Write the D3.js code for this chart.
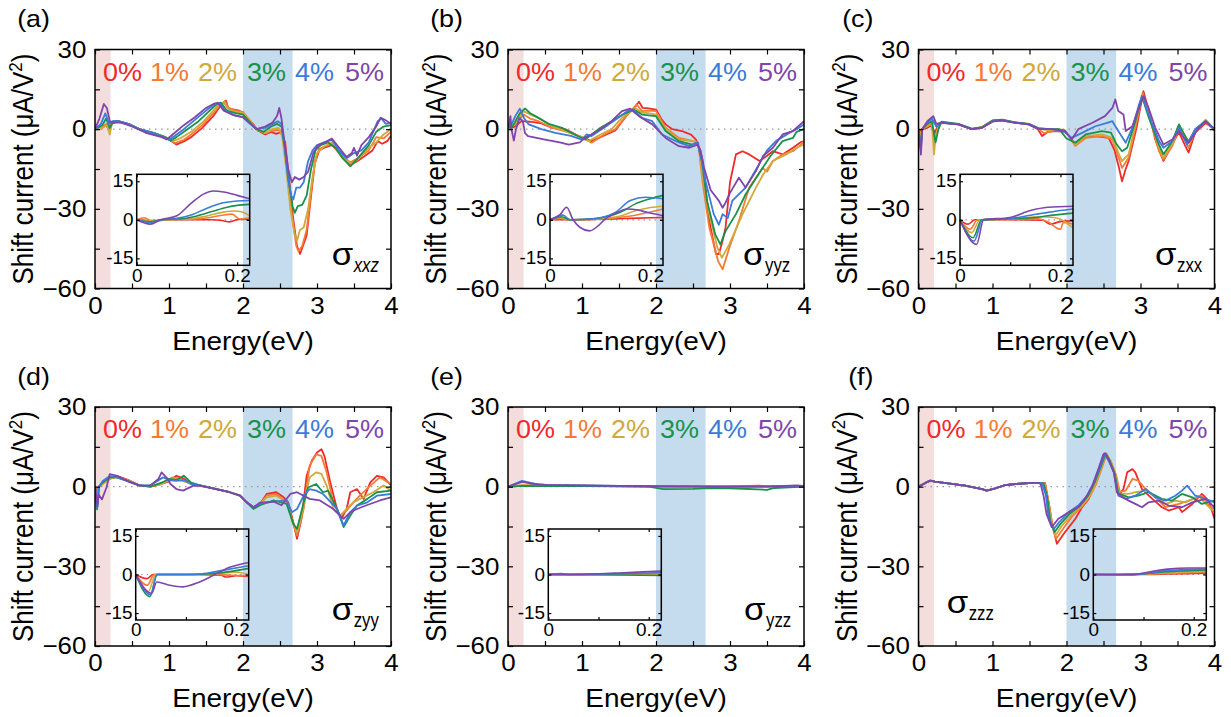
<!DOCTYPE html>
<html>
<head>
<meta charset="utf-8">
<script src="https://d3js.org/d3.v7.min.js"></script>
<style>
  body { margin: 0; background: #fff; }
  svg { display: block; }
</style>
</head>
<body>
<script>
"use strict";

/* strain series: labels and colours */
var strainLabels = ["0%", "1%", "2%", "3%", "4%", "5%"];
var strainColors = ["#ee2a2a", "#f47a35", "#cfa93c", "#18924b", "#3b7bd9", "#7f45ab"];

/* tick values */
var energyTicks = [0, 0.5, 1, 1.5, 2, 2.5, 3, 3.5, 4];
var currentTicks = [-60, -45, -30, -15, 0, 15, 30];
var insetEnergyTicks = [0, 0.1, 0.2];
var insetCurrentTicks = [-15, 0, 15];

/* shaded energy windows (eV) */
var pinkBand = [0, 0.21];
var blueBand = [2.0, 2.67];

var panelLetters = ["(a)", "(b)", "(c)", "(d)", "(e)", "(f)"];
var sigmaSubs = ["xxz", "yyz", "zxx", "zyy", "yzz", "zzz"];

/* ---- (a) sigma_xxz : [energy eV, current uA/V^2], series 0%..5% ---- */
var xxz = [
 [[0,0],[0.08,0.3],[0.14,1.5],[0.19,0.2],[0.22,2],[0.3,2.8],[0.45,1.8],[0.6,0],[0.8,-1.8],[0.95,-3],[1.05,-4.8],[1.1,-5.8],[1.2,-4.6],[1.3,-3],[1.45,0.5],[1.6,5],[1.7,9],[1.77,10.8],[1.8,8],[1.85,7.5],[1.95,7],[2.05,4.5],[2.15,1.5],[2.2,-0.5],[2.3,-2],[2.38,-1],[2.45,-1.8],[2.52,-1],[2.57,-5],[2.62,-18],[2.68,-34],[2.73,-44],[2.77,-47],[2.81,-44],[2.86,-40],[2.92,-25],[2.97,-13],[3.03,-8],[3.1,-7],[3.2,-6],[3.27,-8],[3.35,-11],[3.45,-13.5],[3.55,-12],[3.65,-10],[3.75,-8],[3.82,-4.5],[3.88,-5.5],[3.95,-4.5],[4.0,-2.5]],
 [[0,0],[0.1,0.5],[0.15,2],[0.19,0],[0.23,2.5],[0.3,3],[0.45,2],[0.6,0],[0.8,-1.5],[0.95,-3],[1.08,-5.2],[1.2,-4],[1.3,-2],[1.45,1.5],[1.6,6],[1.7,9.5],[1.76,10.5],[1.8,8],[1.9,7],[2.0,6.5],[2.1,3],[2.18,0],[2.3,-1.5],[2.4,-0.5],[2.5,-0.3],[2.55,-4],[2.6,-15],[2.66,-32],[2.72,-44],[2.75,-46],[2.8,-44],[2.86,-38],[2.92,-24],[2.97,-12],[3.03,-7.5],[3.1,-6.5],[3.2,-5.5],[3.3,-9],[3.45,-12.5],[3.55,-11],[3.7,-8],[3.8,-3],[3.9,-3.5],[4.0,-1]],
 [[0,0],[0.1,0.5],[0.16,1.5],[0.2,-2],[0.23,2.5],[0.3,3],[0.45,2],[0.6,0],[0.8,-1.5],[0.95,-3],[1.05,-4.5],[1.15,-3.5],[1.3,-1],[1.45,2.5],[1.6,7],[1.68,9.5],[1.74,10],[1.8,7.5],[1.9,6.5],[2.0,6],[2.1,3],[2.18,0],[2.3,-1.5],[2.4,0],[2.48,0.5],[2.53,-3],[2.58,-14],[2.64,-30],[2.7,-40],[2.73,-42],[2.77,-38],[2.82,-37],[2.88,-30],[2.94,-18],[3.0,-9],[3.1,-6.5],[3.2,-5],[3.3,-9],[3.45,-13],[3.55,-11.5],[3.7,-7],[3.8,-5],[3.9,-2],[4.0,0]],
 [[0,0],[0.1,1.5],[0.15,4],[0.2,0.5],[0.25,3],[0.32,3],[0.45,2],[0.6,0],[0.8,-1.5],[0.95,-3],[1.02,-4.4],[1.1,-3],[1.25,0],[1.4,3],[1.55,7],[1.65,9.5],[1.7,10],[1.78,7],[1.9,6],[2.0,5.5],[2.1,2.5],[2.18,0],[2.28,-1],[2.38,1],[2.46,2],[2.52,1],[2.56,-6],[2.62,-20],[2.67,-29],[2.7,-31.5],[2.74,-29],[2.8,-28.5],[2.86,-25],[2.92,-15],[2.98,-8],[3.05,-6],[3.15,-5],[3.25,-7],[3.35,-11],[3.45,-14],[3.55,-11],[3.7,-6],[3.8,-1],[3.9,1],[4.0,1.5]],
 [[0,0],[0.08,2],[0.14,6],[0.19,2],[0.24,3],[0.32,3],[0.45,2],[0.6,0],[0.8,-1.5],[0.92,-3],[1.0,-4],[1.08,-2.5],[1.2,0],[1.35,3.5],[1.5,7],[1.62,9.5],[1.68,9.8],[1.76,7],[1.9,5],[2.0,4.5],[2.1,2],[2.18,0],[2.3,0.5],[2.4,2],[2.47,3],[2.52,2],[2.56,-6],[2.61,-19],[2.65,-25],[2.68,-26.5],[2.72,-22],[2.77,-22],[2.82,-20],[2.88,-12],[2.94,-8],[3.0,-6],[3.1,-5],[3.2,-4],[3.3,-8],[3.4,-11],[3.5,-9],[3.6,-8],[3.7,-5],[3.82,3],[3.87,4],[3.93,2],[4.0,2.5]],
 [[0,0],[0.06,4],[0.12,9.5],[0.16,8],[0.2,3],[0.25,2.5],[0.35,2.5],[0.5,1],[0.7,-1.5],[0.9,-3],[0.97,-3.9],[1.05,-2],[1.2,1.5],[1.35,4.5],[1.5,8],[1.6,9.5],[1.66,9.9],[1.74,7],[1.85,5.5],[2.0,4.5],[2.1,2],[2.18,0],[2.3,1],[2.4,2.5],[2.46,5],[2.49,8],[2.52,4],[2.56,-5],[2.61,-15],[2.66,-20],[2.7,-18],[2.76,-19],[2.82,-18],[2.88,-16],[2.95,-9],[3.02,-6],[3.1,-5],[3.2,-3.5],[3.3,-7],[3.4,-10.5],[3.47,-9],[3.5,-7],[3.54,-10],[3.6,-6],[3.7,-3],[3.8,1],[3.86,4.3],[3.92,3.5],[4.0,2]]
];
var xxzInset = [
 [[0,0],[0.03,-0.3],[0.06,0],[0.1,0],[0.15,0],[0.17,-0.3],[0.185,-0.8],[0.2,0],[0.225,0.3]],
 [[0,0],[0.015,0.8],[0.03,-0.5],[0.06,0],[0.1,0.2],[0.14,0.7],[0.17,1.8],[0.19,2.2],[0.205,0.3],[0.225,0.8]],
 [[0,0],[0.03,-0.5],[0.06,0],[0.1,0.3],[0.14,1.5],[0.17,2.9],[0.195,3.4],[0.21,3],[0.225,1.6]],
 [[0,0],[0.027,-0.8],[0.05,0],[0.09,0.4],[0.12,1.5],[0.15,3.2],[0.18,4.9],[0.2,5.6],[0.225,6]],
 [[0,0],[0.027,-1],[0.05,0],[0.08,0.6],[0.11,2],[0.14,4.5],[0.17,6.5],[0.2,7.3],[0.225,7.5]],
 [[0,0],[0.027,-1.7],[0.047,0],[0.08,1.6],[0.107,6.2],[0.133,10],[0.153,11.2],[0.173,10.8],[0.2,9.5],[0.225,8.2]]
];

/* ---- (b) sigma_yyz ---- */
var yyz = [
 [[0,0],[0.1,1],[0.18,3],[0.3,2.8],[0.45,2.2],[0.6,0.5],[0.77,0],[0.95,-2.5],[1.13,-4.5],[1.25,-3],[1.45,-0.5],[1.6,5],[1.72,8.5],[1.77,10.3],[1.82,8],[1.9,7.8],[2.0,7.4],[2.08,3.5],[2.13,1.8],[2.22,0],[2.35,-0.7],[2.42,-1.5],[2.47,-2],[2.54,-3.9],[2.6,-8],[2.63,-12],[2.72,-34.6],[2.81,-47],[2.85,-47],[2.9,-42],[2.94,-37],[3.0,-20],[3.08,-9.5],[3.17,-8.3],[3.26,-9.5],[3.4,-12],[3.5,-10],[3.58,-8.3],[3.71,-9.5],[3.85,-7],[3.95,-5],[4.0,-4.5]],
 [[0,0],[0.1,2],[0.21,5.5],[0.3,4],[0.41,3],[0.6,0.5],[0.8,-1],[1.0,-3],[1.13,-5.1],[1.3,-2],[1.45,0],[1.6,5],[1.74,9.3],[1.81,6.8],[1.9,7],[2.0,6.8],[2.13,0.5],[2.31,-3.3],[2.5,-4.5],[2.57,-5],[2.63,-20],[2.72,-37],[2.84,-49.7],[2.9,-52.8],[2.99,-44.7],[3.12,-34.6],[3.26,-22],[3.44,-14.6],[3.5,-16],[3.58,-12],[3.71,-9.5],[3.85,-8.3],[3.95,-6],[4.0,-4.5]],
 [[0,0],[0.1,2],[0.21,6.8],[0.3,5.5],[0.41,4.3],[0.6,1],[0.8,-1],[1.0,-3],[1.09,-4.5],[1.25,-2],[1.4,0],[1.55,4.5],[1.72,8],[1.81,6.2],[1.9,6],[2.0,5.5],[2.13,0],[2.31,-3.9],[2.5,-4.5],[2.57,-5],[2.63,-18],[2.72,-32],[2.83,-44.7],[2.89,-48.4],[2.99,-43.4],[3.17,-32],[3.35,-22],[3.45,-17],[3.58,-12],[3.76,-9.5],[3.9,-7],[4.0,-5.8]],
 [[0,0],[0.023,1.2],[0.04,0],[0.1,3],[0.16,6],[0.23,7.8],[0.3,6],[0.37,4.9],[0.55,2],[0.73,0.5],[0.9,-2],[1.04,-3.9],[1.13,-2],[1.25,0.5],[1.4,3],[1.55,5.5],[1.7,7.4],[1.81,5.5],[1.9,5.2],[2.0,4.9],[2.13,-0.7],[2.31,-4.5],[2.49,-5.8],[2.56,-5],[2.62,-12],[2.69,-27],[2.8,-39.6],[2.87,-43.4],[2.94,-38.4],[3.08,-32],[3.21,-24.6],[3.44,-14.6],[3.55,-10],[3.71,-4.5],[3.85,-3.3],[3.9,-1],[4.0,0]],
 [[0,0],[0.026,1.8],[0.05,2],[0.1,5],[0.16,7.7],[0.22,4],[0.28,1.8],[0.45,0],[0.64,-1.4],[0.85,-2.5],[1.0,-3.9],[1.06,-2],[1.13,-2.6],[1.36,1.8],[1.5,4.5],[1.61,6.8],[1.68,7.4],[1.81,4.3],[1.95,3],[2.08,-2],[2.31,-5],[2.45,-6.4],[2.56,-5],[2.62,-12],[2.67,-19.6],[2.78,-32],[2.85,-36],[2.9,-32],[2.97,-33.5],[3.03,-27],[3.21,-22],[3.39,-13.3],[3.5,-8],[3.62,-4.5],[3.8,-1.4],[3.9,0],[4.0,1.8]],
 [[0,0],[0.033,4.9],[0.046,0],[0.079,-4.3],[0.108,0],[0.154,4.2],[0.2,3],[0.23,-1.5],[0.27,-2.6],[0.5,-3.9],[0.7,-5],[0.82,-5.8],[0.97,-5],[1.05,-3],[1.13,-2],[1.25,0],[1.4,3],[1.54,6.8],[1.65,7.7],[1.77,4.9],[1.95,1.8],[2.13,-3.3],[2.31,-6.4],[2.45,-7],[2.56,-5.8],[2.6,-8],[2.65,-14.6],[2.74,-23],[2.85,-27],[2.9,-29.6],[2.94,-27.7],[3.0,-24],[3.12,-18.3],[3.21,-22],[3.35,-15.8],[3.45,-10],[3.58,-7],[3.71,-2],[3.85,-0.7],[3.92,1],[4.0,3]]
];
var yyzInset = [
 [[0,0],[0.05,0],[0.1,0.2],[0.15,0.5],[0.2,0.8],[0.225,0.9]],
 [[0,0],[0.02,0.5],[0.04,0],[0.1,0.3],[0.14,1],[0.17,1.8],[0.2,3],[0.225,4.2]],
 [[0,0],[0.02,0.8],[0.04,0],[0.1,0.5],[0.14,1.5],[0.17,3.5],[0.2,4.8],[0.225,5.3]],
 [[0,0],[0.023,1.2],[0.04,0],[0.09,0.5],[0.14,2.9],[0.17,6.2],[0.2,8.2],[0.225,9.5]],
 [[0,0],[0.026,1.8],[0.04,0],[0.08,0.3],[0.1,0.8],[0.13,2.9],[0.16,7.5],[0.19,8.8],[0.225,8.2]],
 [[0,0],[0.02,2],[0.033,4.9],[0.046,0],[0.06,-3],[0.079,-4.3],[0.095,-2.5],[0.108,0],[0.13,2.5],[0.154,4.2],[0.175,3.8],[0.193,2.9],[0.225,1.6]]
];

/* ---- (c) sigma_zxx ---- */
var zxx = [
 [[0,0],[0.016,-1.7],[0.04,0],[0.12,0.5],[0.18,1.5],[0.22,-1.5],[0.27,2],[0.35,2.5],[0.54,1.8],[0.72,0],[0.86,0.5],[1.0,3],[1.13,3.3],[1.31,2.4],[1.49,1.8],[1.6,0.5],[1.67,-2.6],[1.75,-1],[1.85,-0.7],[1.98,-1],[2.05,-3],[2.12,-5.8],[2.21,-3.3],[2.39,-2.6],[2.57,-3.3],[2.65,-8],[2.71,-14.6],[2.75,-19.6],[2.8,-15],[2.84,-12],[2.95,1],[3.04,14.3],[3.11,7],[3.2,-4],[3.25,-7.7],[3.31,-12],[3.43,-5.5],[3.52,-1.2],[3.6,-6],[3.65,-8.8],[3.74,-1.2],[3.88,2.3],[3.95,1],[4.0,0]],
 [[0,0],[0.02,-3.7],[0.045,0],[0.12,1],[0.18,2],[0.21,-4],[0.25,-1],[0.3,2.5],[0.54,1.8],[0.72,0],[0.86,0.8],[1.0,3],[1.13,3.5],[1.31,2.5],[1.49,1.8],[1.62,0],[1.7,-1.5],[1.85,-0.5],[1.98,-0.5],[2.12,-6.3],[2.26,-3.3],[2.48,-2.6],[2.62,-3.9],[2.72,-12],[2.75,-14.6],[2.84,-10.8],[2.95,3],[3.03,13.7],[3.11,5.5],[3.25,-8.3],[3.31,-11.5],[3.43,-6.3],[3.52,0],[3.65,-7],[3.74,-0.7],[3.88,3],[4.0,-0.7]],
 [[0,0],[0.025,-5],[0.045,0],[0.12,1.5],[0.18,2.5],[0.21,-9.5],[0.23,-3],[0.28,2.5],[0.54,1.8],[0.72,0],[0.86,0.8],[1.0,3.3],[1.13,3.5],[1.31,2.5],[1.49,2],[1.62,0.3],[1.75,-0.5],[1.9,0],[1.98,-0.5],[2.12,-5.8],[2.26,-2.6],[2.48,-2],[2.62,-3.3],[2.71,-9.5],[2.75,-12],[2.84,-9.5],[2.95,4.3],[3.02,13],[3.11,5.5],[3.25,-7],[3.31,-10.8],[3.43,-5.5],[3.52,0.5],[3.65,-4.5],[3.74,-0.5],[3.88,3.6],[4.0,0]],
 [[0,0],[0.03,-7],[0.05,0],[0.12,2],[0.18,3],[0.23,-5],[0.27,0],[0.31,2.8],[0.54,2],[0.72,0.2],[0.86,0.8],[1.0,3.3],[1.13,3.6],[1.31,2.6],[1.49,2],[1.62,0.4],[1.75,0],[1.9,0],[2.0,-3.5],[2.12,-5.1],[2.26,-2],[2.48,-0.7],[2.6,-1.3],[2.68,-5.8],[2.75,-8.3],[2.82,-7],[2.93,3],[3.02,12.4],[3.11,4.5],[3.25,-5.8],[3.31,-9.5],[3.43,-4.5],[3.52,1.8],[3.65,-5],[3.74,0],[3.88,3],[4.0,0]],
 [[0,0],[0.032,-8.3],[0.05,0],[0.12,2.5],[0.18,4],[0.24,1],[0.31,2.5],[0.54,1.8],[0.72,0],[0.86,0.6],[1.0,3],[1.13,3.3],[1.31,2.5],[1.49,1.8],[1.62,0.3],[1.8,0],[1.95,-0.5],[2.07,-3.3],[2.21,-1.4],[2.39,1.1],[2.55,2.4],[2.62,3],[2.7,-0.7],[2.8,-5.1],[2.89,0.5],[2.98,9.3],[3.02,12.4],[3.11,5.5],[3.25,-4.5],[3.31,-7],[3.43,-4.5],[3.52,0.5],[3.63,-5.8],[3.74,0],[3.88,3],[4.0,0]],
 [[0,0],[0.02,-5],[0.033,-9.6],[0.05,0],[0.12,3],[0.2,4.9],[0.24,2],[0.31,2.4],[0.54,1.8],[0.72,0],[0.86,0.5],[1.0,2.8],[1.13,3.3],[1.31,2.4],[1.49,1.8],[1.62,0],[1.8,0],[1.98,-0.6],[2.07,-3.9],[2.16,0],[2.35,2.4],[2.52,4.9],[2.62,8],[2.66,11.2],[2.7,6.8],[2.77,5.5],[2.8,-0.7],[2.89,1.1],[2.98,8],[3.04,12.4],[3.11,8],[3.2,0.5],[3.31,-5.8],[3.43,-3.9],[3.52,-0.7],[3.59,-3.3],[3.65,-5.1],[3.79,0.5],[3.88,3],[4.0,0]]
];
var zxxInset = [
 [[0,0],[0.016,-1.7],[0.03,0],[0.1,0],[0.165,-0.2],[0.18,-1.7],[0.194,-1],[0.205,-0.5],[0.225,-0.4]],
 [[0,0],[0.02,-3.7],[0.035,0],[0.1,0.2],[0.15,0.5],[0.175,-0.8],[0.2,-3.7],[0.206,-1],[0.225,-1.7]],
 [[0,0],[0.023,-5],[0.04,0],[0.1,0.3],[0.16,1.2],[0.187,0.9],[0.207,-0.4],[0.22,-2.4],[0.225,-3]],
 [[0,0],[0.026,-7],[0.043,0],[0.1,0.4],[0.15,0.9],[0.175,1.6],[0.225,2.6]],
 [[0,0],[0.028,-8.3],[0.045,0],[0.1,0.5],[0.14,1.8],[0.175,2.9],[0.225,4.2]],
 [[0,0],[0.033,-9.6],[0.047,0],[0.1,0.9],[0.14,3.6],[0.175,4.9],[0.225,5.3]]
];

/* ---- (d) sigma_zyy ---- */
var zyy = [
 [[0,0],[0.022,-1.6],[0.05,0],[0.1,1],[0.2,3],[0.3,4],[0.45,2.5],[0.6,0.5],[0.75,0],[0.9,1],[1.0,2],[1.1,4.1],[1.2,3],[1.3,1],[1.42,0.5],[1.64,-0.9],[1.82,-2.1],[1.96,-3.4],[2.05,-5.9],[2.14,-7.75],[2.23,-6.5],[2.32,-2.75],[2.45,-2.1],[2.55,-4],[2.61,-5.9],[2.68,-13.4],[2.73,-19.6],[2.79,-12.1],[2.86,4.1],[2.93,9.75],[3.0,12.9],[3.06,14.1],[3.1,11.6],[3.18,1.6],[3.27,-8.4],[3.33,-12.1],[3.4,-8.4],[3.45,-2.1],[3.54,-0.9],[3.63,-4.6],[3.72,1.6],[3.81,4.1],[3.9,3.5],[4.0,0.5]],
 [[0,0],[0.023,-4.2],[0.05,0],[0.1,1],[0.2,3],[0.3,3.8],[0.45,2.5],[0.6,0.5],[0.75,0],[0.9,1.2],[1.05,3.5],[1.15,3],[1.3,1],[1.42,0.5],[1.64,-0.9],[1.82,-2.1],[1.96,-3.4],[2.05,-5.9],[2.14,-7.75],[2.23,-6.5],[2.32,-3.4],[2.45,-2.75],[2.59,-5.9],[2.69,-15],[2.73,-18.4],[2.82,-8.4],[2.9,7.9],[2.99,12.2],[3.06,11.6],[3.13,5.4],[3.22,-5.9],[3.31,-10.9],[3.4,-9],[3.49,-5.9],[3.58,-3.4],[3.72,0.4],[3.85,3.5],[4.0,1]],
 [[0,0],[0.025,-6.7],[0.05,0],[0.1,1],[0.2,3],[0.3,3.5],[0.45,2.2],[0.6,0.5],[0.75,0],[0.9,1],[1.05,3],[1.15,2.5],[1.3,1],[1.42,0.5],[1.64,-0.9],[1.82,-2.1],[1.96,-3.4],[2.05,-5.9],[2.14,-7.75],[2.23,-6.5],[2.32,-4],[2.45,-3.4],[2.59,-5.9],[2.68,-14],[2.73,-17],[2.82,-7],[2.9,3.5],[2.99,5.4],[3.06,4.8],[3.13,0.4],[3.22,-8.4],[3.31,-10.9],[3.4,-8.4],[3.49,-5.9],[3.58,-4.6],[3.76,-2.1],[3.9,0.4],[4.0,-1.5]],
 [[0,0],[0.028,-8.6],[0.055,0],[0.1,1.5],[0.2,3.5],[0.3,3.5],[0.45,2],[0.6,0.5],[0.75,0],[0.9,1.5],[1.0,2.9],[1.1,2.5],[1.2,4.1],[1.3,1.5],[1.42,0.5],[1.64,-0.9],[1.82,-2.1],[1.96,-3.4],[2.05,-5.9],[2.14,-8.4],[2.23,-7],[2.41,-5.2],[2.59,-6.5],[2.68,-14],[2.73,-15.9],[2.82,-6],[2.88,-0.3],[2.99,1],[3.08,-2.1],[3.15,-1.5],[3.27,-8.4],[3.36,-15.2],[3.45,-10.9],[3.54,-7.1],[3.68,-4.6],[3.81,-2.1],[4.0,-1.5]],
 [[0,0],[0.03,-7.9],[0.055,0],[0.1,2],[0.2,4],[0.3,3.5],[0.45,2],[0.6,0.5],[0.75,0.5],[0.92,3.5],[1.0,2.5],[1.1,2.2],[1.2,2.5],[1.3,1],[1.42,0.5],[1.64,-0.9],[1.82,-2.1],[1.96,-3.4],[2.05,-5.9],[2.14,-7.75],[2.23,-6.5],[2.41,-5.6],[2.59,-5.2],[2.66,-9.6],[2.73,-8.4],[2.82,-3.4],[2.9,-0.9],[2.99,-1.5],[3.08,-2.75],[3.27,-8.4],[3.36,-14.6],[3.45,-9.6],[3.54,-7.1],[3.68,-5.9],[3.81,-3.4],[4.0,-2.75]],
 [[0,0],[0.032,-7.3],[0.05,-3],[0.094,-4.8],[0.154,-0.4],[0.2,4.75],[0.3,4.1],[0.45,2],[0.6,0.4],[0.75,0.5],[0.86,3],[0.9,5.4],[0.98,3],[1.02,1],[1.1,-0.9],[1.19,-1.5],[1.33,0.4],[1.42,0.3],[1.64,-0.9],[1.82,-2.1],[1.96,-3.4],[2.05,-5.9],[2.14,-7.75],[2.23,-6],[2.41,-5.6],[2.52,-7],[2.64,-2.75],[2.73,-2.1],[2.9,-4.6],[3.04,-5.2],[3.22,-8.4],[3.36,-12.1],[3.45,-9.6],[3.54,-8.4],[3.67,-7],[3.85,-5.2],[4.0,-4]]
];
var zyyInset = [
 [[0,0],[0.022,-1.6],[0.035,0],[0.1,0],[0.17,-0.3],[0.18,-1],[0.2,-0.5],[0.225,-0.8]],
 [[0,0],[0.023,-4.2],[0.037,0],[0.1,0],[0.16,0],[0.19,-0.3],[0.225,-0.4]],
 [[0,0],[0.025,-6.7],[0.04,0],[0.1,0],[0.16,0.3],[0.2,0.9],[0.225,0]],
 [[0,0],[0.028,-8.6],[0.043,0],[0.1,0],[0.15,0.3],[0.19,1.2],[0.225,2.4]],
 [[0,0],[0.03,-7.9],[0.042,0],[0.1,0],[0.13,0.2],[0.17,1.5],[0.225,3.4]],
 [[0,0],[0.032,-7.3],[0.042,-2.9],[0.068,-4.2],[0.094,-4.8],[0.127,-2.9],[0.154,-0.4],[0.187,2.8],[0.225,4.7]]
];

/* ---- (e) sigma_yzz ---- */
var yzz = [
 [[0,0],[0.2,0.3],[0.5,0.4],[1,0.3],[2,0],[2.5,0],[3,0.1],[3.4,0.4],[3.5,0.1],[4,0.2]],
 [[0,0],[0.2,0.5],[0.5,0.5],[1,0.3],[2,0.1],[3,0],[4,0.1]],
 [[0,0],[0.2,0.6],[0.4,0.5],[1,0.4],[2,0.1],[3,0],[4,0.2]],
 [[0,0],[0.2,0.3],[0.5,0.2],[1,0.2],[1.9,0],[2.1,-0.9],[2.5,-0.8],[2.7,-0.5],[3,-0.6],[3.5,-1.2],[3.6,-0.5],[4,0]],
 [[0,0],[0.19,2.2],[0.25,1.8],[0.4,0.9],[0.6,0.6],[1,0.5],[1.5,0.3],[2,0.1],[2.5,0.1],[3,0],[4,0.3]],
 [[0,0],[0.19,1.8],[0.3,1.2],[0.5,0.7],[1,0.5],[1.5,0.3],[2,0.2],[2.4,0.1],[2.8,0],[3.5,0],[3.9,0.5],[4,0.3]]
];
var yzzInset = [
 [[0,0],[0.1,0],[0.225,0.1]],
 [[0,0],[0.1,0],[0.225,0.2]],
 [[0,0],[0.1,0],[0.225,0.2]],
 [[0,0],[0.1,-0.1],[0.225,-0.4]],
 [[0,0],[0.026,0.4],[0.04,0],[0.1,0.2],[0.225,0.7]],
 [[0,0],[0.1,0.3],[0.15,0.7],[0.225,1.3]]
];

/* ---- (f) sigma_zzz ---- */
var zzz = [
 [[0,0],[0.1,1.5],[0.16,2.25],[0.22,1.9],[0.4,1.2],[0.63,0.4],[0.86,-0.9],[0.92,-1.5],[1.04,-0.6],[1.17,0.6],[1.31,1],[1.53,1.4],[1.62,1.4],[1.71,1.4],[1.76,-6],[1.81,-14.6],[1.87,-21.5],[1.98,-17.1],[2.12,-12.1],[2.21,-7.75],[2.3,-4.6],[2.37,0.4],[2.46,7.9],[2.53,11.6],[2.59,9.1],[2.66,4.1],[2.72,-2.75],[2.77,-0.9],[2.82,5.4],[2.89,6.6],[2.93,5.4],[3.02,-0.9],[3.16,-4.6],[3.29,-7.75],[3.38,-9],[3.52,-7.75],[3.56,-9.6],[3.7,-6.5],[3.83,-2.75],[3.92,-5.25],[4.0,-12.1]],
 [[0,0],[0.1,1.5],[0.16,2.25],[0.22,1.9],[0.4,1.2],[0.63,0.4],[0.86,-0.9],[0.92,-1.5],[1.04,-0.6],[1.17,0.6],[1.31,1],[1.53,1.4],[1.62,1.4],[1.71,1.2],[1.76,-6],[1.81,-15],[1.86,-19.6],[1.95,-16],[2.08,-11],[2.2,-7.75],[2.31,-4],[2.4,1],[2.49,8],[2.54,12.25],[2.6,9.5],[2.67,4.5],[2.72,-2],[2.8,-1.5],[2.89,2.9],[2.97,2.3],[3.07,-0.9],[3.2,-4],[3.34,-7.75],[3.52,-6.5],[3.65,-5.25],[3.83,-3.4],[3.92,-7],[4.0,-8.4]],
 [[0,0],[0.1,1.5],[0.16,2.25],[0.22,1.9],[0.4,1.2],[0.63,0.4],[0.86,-0.9],[0.92,-1.5],[1.04,-0.6],[1.17,0.6],[1.31,1],[1.53,1.4],[1.62,1.4],[1.7,1.2],[1.75,-5],[1.8,-14],[1.85,-18.5],[1.93,-15],[2.07,-10.5],[2.19,-7.75],[2.3,-4],[2.39,1],[2.48,8],[2.54,12.5],[2.59,10],[2.66,5],[2.71,-2.5],[2.84,-2.75],[2.93,-2.1],[3.07,-1.5],[3.2,-3.4],[3.34,-6.5],[3.47,-5.25],[3.61,-5.9],[3.79,-3.4],[3.88,-6.5],[4.0,-9.6]],
 [[0,0],[0.1,1.5],[0.16,2.25],[0.22,1.9],[0.4,1.2],[0.63,0.4],[0.86,-0.9],[0.92,-1.5],[1.04,-0.6],[1.17,0.6],[1.31,1],[1.53,1.4],[1.62,1.4],[1.69,1.2],[1.74,-4],[1.78,-13],[1.84,-17.1],[1.92,-14],[2.05,-10],[2.17,-7.5],[2.29,-3.5],[2.38,1.5],[2.47,8],[2.53,12.5],[2.58,10],[2.65,5],[2.7,-2.5],[2.84,-4],[2.97,-3.4],[3.11,-2.1],[3.29,-4.6],[3.43,-5.25],[3.56,-2.75],[3.7,-4],[3.83,-6.5],[4.0,-5.25]],
 [[0,0],[0.1,1.5],[0.16,2.25],[0.22,1.9],[0.4,1.2],[0.63,0.4],[0.86,-0.9],[0.92,-1.5],[1.04,-0.6],[1.17,0.6],[1.31,1],[1.53,1.4],[1.62,1.4],[1.67,1.2],[1.72,-3],[1.76,-12],[1.83,-15.9],[1.9,-13.4],[2.03,-9.6],[2.16,-7.1],[2.28,-3.4],[2.37,1.6],[2.46,7.9],[2.52,12.25],[2.57,9.75],[2.64,5.4],[2.7,-3.4],[2.8,-4.6],[2.93,-3.4],[3.07,-0.9],[3.2,-4],[3.34,-5.25],[3.47,-3.4],[3.56,-1.5],[3.63,0.4],[3.74,-3.4],[3.88,-4.6],[4.0,-5.9]],
 [[0,0],[0.1,1.5],[0.16,2.25],[0.22,1.9],[0.4,1.2],[0.63,0.4],[0.86,-0.9],[0.92,-1.5],[1.04,-0.6],[1.17,0.6],[1.31,1],[1.53,1.4],[1.62,1.4],[1.65,1],[1.69,-3.4],[1.73,-10.25],[1.8,-15.25],[1.89,-12.1],[2.03,-9.6],[2.16,-7.75],[2.25,-4.6],[2.35,0.4],[2.43,6.6],[2.5,12.25],[2.52,12.6],[2.57,10.4],[2.64,5.4],[2.68,-2.1],[2.73,-3.4],[2.84,-5.25],[2.93,-6.5],[3.02,-7.75],[3.11,-5.9],[3.25,-5.25],[3.38,-7.1],[3.56,-7.75],[3.7,-5.9],[3.88,-4.6],[4.0,-7.75]]
];
var zzzInset = [
 [[0,0],[0.1,0],[0.15,0.2],[0.225,0.5]],
 [[0,0],[0.1,0.1],[0.15,0.4],[0.225,0.9]],
 [[0,0],[0.1,0.2],[0.15,0.7],[0.225,1.3]],
 [[0,0],[0.1,0.3],[0.15,1.1],[0.225,1.8]],
 [[0,0],[0.08,-0.1],[0.11,0.5],[0.15,1.6],[0.225,2.1]],
 [[0,0],[0.075,-0.1],[0.108,0.9],[0.148,2.1],[0.19,2.5],[0.225,2.5]]
];

var panelData = [xxz, yyz, zxx, zyy, yzz, zzz];
var insetData = [xxzInset, yyzInset, zxxInset, zyyInset, yzzInset, zzzInset];

/* ---- layout ---- */
var FONT = "'Liberation Sans', Arial, Helvetica, sans-serif";
var SX = 1.08;                       // horizontal stretch of the original lettering
var colLeft = [95, 508, 918.5];
var rowTop = [49.5, 407];
var plotW = 296, plotH = 239;
var insetW = 113, insetH = 91;
var insetOffset = [[41.7, 124.8], [42, 124.8], [41.5, 124.8], [40.7, 122], [40.3, 122], [174.8, 122]];
var sigmaOffset = [[236.7, 215.5], [235, 215.5], [236.5, 215.5], [236.7, 213], [236, 213], [28.2, 206]];
var pctOffset = [8, 55, 103, 152, 200, 250];

var svg = d3.select("body").append("svg")
    .attr("width", 1231).attr("height", 717)
    .style("font-family", FONT);

function label(parent, x, y, str, size, anchor, sx) {
    return parent.append("g")
        .attr("transform", "translate(" + x + "," + y + ") scale(" + sx + ",1)")
        .append("text")
        .attr("font-size", size)
        .attr("text-anchor", anchor)
        .attr("fill", "#000")
        .text(str);
}

function styleAxis(sel, size) {
    sel.attr("font-family", FONT).attr("font-size", size);
    sel.select(".domain").remove();
    sel.selectAll(".tick line").attr("stroke", "#000").attr("stroke-width", 1.2);
    sel.selectAll(".tick text").attr("fill", "#000").attr("transform", "scale(" + SX + ",1)");
}

panelData.forEach(function (series, i) {
    var col = i % 3, row = Math.floor(i / 3);
    var left = colLeft[col], top = rowTop[row];
    var g = svg.append("g").attr("transform", "translate(" + left + "," + top + ")");

    var x = d3.scaleLinear().domain([0, 4]).range([0, plotW]);
    var y = d3.scaleLinear().domain([-60, 30]).range([plotH, 0]);

    /* shaded windows */
    g.append("rect").attr("x", x(pinkBand[0])).attr("y", 0)
        .attr("width", x(pinkBand[1]) - x(pinkBand[0])).attr("height", plotH)
        .attr("fill", "#f3dedd");
    g.append("rect").attr("x", x(blueBand[0])).attr("y", 0)
        .attr("width", x(blueBand[1]) - x(blueBand[0])).attr("height", plotH)
        .attr("fill", "#c5dcee");

    /* zero line */
    g.append("line").attr("x1", 0).attr("x2", plotW).attr("y1", y(0)).attr("y2", y(0))
        .attr("stroke", "#999").attr("stroke-width", 1.3).attr("stroke-dasharray", "1.5,4.5");

    /* curves */
    var clipId = "clip" + i;
    g.append("clipPath").attr("id", clipId).append("rect")
        .attr("width", plotW).attr("height", plotH);
    var line = d3.line().x(function (d) { return x(d[0]); }).y(function (d) { return y(d[1]); });
    g.append("g").attr("clip-path", "url(#" + clipId + ")")
        .selectAll("path").data(series).join("path")
        .attr("d", line)
        .attr("fill", "none")
        .attr("stroke", function (d, k) { return strainColors[k]; })
        .attr("stroke-width", 1.8)
        .attr("stroke-linejoin", "round");

    /* strain labels */
    strainLabels.forEach(function (s, k) {
        label(g, pctOffset[k], 31, s, 25, "start", SX).attr("fill", strainColors[k]);
    });

    /* sigma label */
    var sg = sigmaOffset[i];
    label(g, sg[0], sg[1], "σ", 31, "start", 1.12);
    label(g, sg[0] + 22, sg[1] + 7, sigmaSubs[i], 21, "start", 0.8)
        .attr("font-style", i === 0 ? "italic" : "normal");

    /* inset */
    var io = insetOffset[i];
    var ig = g.append("g").attr("transform", "translate(" + io[0] + "," + io[1] + ")");
    var ix = d3.scaleLinear().domain([0, 0.225]).range([0, insetW]);
    var iy = d3.scaleLinear().domain([-17.7, 17.7]).range([insetH, 0]);
    ig.append("line").attr("x1", 0).attr("x2", insetW).attr("y1", iy(0)).attr("y2", iy(0))
        .attr("stroke", "#999").attr("stroke-width", 1.2).attr("stroke-dasharray", "1.5,4");
    var iline = d3.line().curve(d3.curveMonotoneX)
        .x(function (d) { return ix(d[0]); }).y(function (d) { return iy(d[1]); });
    ig.selectAll("path.c").data(insetData[i]).join("path").attr("class", "c")
        .attr("d", iline)
        .attr("fill", "none")
        .attr("stroke", function (d, k) { return strainColors[k]; })
        .attr("stroke-width", 1.6);
    ig.append("g").attr("transform", "translate(0," + insetH + ")")
        .call(d3.axisBottom(ix).tickValues(insetEnergyTicks).tickSizeInner(-3).tickSizeOuter(0).tickPadding(4)
            .tickFormat(function (d) { return d === 0 ? "0" : (d === 0.2 ? "0.2" : ""); }))
        .call(styleAxis, 17.5);
    ig.append("g")
        .call(d3.axisTop(ix).tickValues(insetEnergyTicks).tickSizeInner(-3).tickSizeOuter(0).tickFormat(""))
        .call(styleAxis, 17.5);
    ig.append("g")
        .call(d3.axisLeft(iy).tickValues(insetCurrentTicks).tickSizeInner(-3).tickSizeOuter(0).tickPadding(3)
            .tickFormat(function (d) { return d < 0 ? "-" + Math.abs(d) : String(d); }))
        .call(styleAxis, 17.5);
    ig.append("g").attr("transform", "translate(" + insetW + ",0)")
        .call(d3.axisRight(iy).tickValues(insetCurrentTicks).tickSizeInner(-3).tickSizeOuter(0).tickFormat(""))
        .call(styleAxis, 17.5);
    ig.append("rect").attr("width", insetW).attr("height", insetH)
        .attr("fill", "none").attr("stroke", "#000").attr("stroke-width", 1.5);

    /* main axes with inward ticks on all sides */
    g.append("g").attr("transform", "translate(0," + plotH + ")")
        .call(d3.axisBottom(x).tickValues(energyTicks).tickSizeInner(-5).tickSizeOuter(0).tickPadding(8)
            .tickFormat(function (d) { return Number.isInteger(d) ? String(d) : ""; }))
        .call(styleAxis, 24);
    g.append("g")
        .call(d3.axisTop(x).tickValues(energyTicks).tickSizeInner(-5).tickSizeOuter(0).tickFormat(""))
        .call(styleAxis, 24);
    g.append("g")
        .call(d3.axisLeft(y).tickValues(currentTicks).tickSizeInner(-5).tickSizeOuter(0).tickPadding(8)
            .tickFormat(function (d) { return d % 30 === 0 ? d3.format("d")(d) : ""; }))
        .call(styleAxis, 24);
    g.append("g").attr("transform", "translate(" + plotW + ",0)")
        .call(d3.axisRight(y).tickValues(currentTicks).tickSizeInner(-5).tickSizeOuter(0).tickFormat(""))
        .call(styleAxis, 24);
    g.append("rect").attr("width", plotW).attr("height", plotH)
        .attr("fill", "none").attr("stroke", "#000").attr("stroke-width", 1.5);

    /* axis titles */
    label(g, plotW / 2, plotH + 61, "Energy(eV)", 25, "middle", 1.12);
    var yt = g.append("g")
        .attr("transform", "translate(-62," + (plotH / 2) + ") scale(1.12,1) rotate(-90)")
        .append("text").attr("font-size", 26).attr("text-anchor", "middle").attr("fill", "#000");
    yt.append("tspan").text("Shift current (μA/V");
    yt.append("tspan").attr("font-size", 17).attr("dy", -10).text("2");
    yt.append("tspan").attr("dy", 10).text(")");

    /* panel letter */
    label(g, -45, -22.5, panelLetters[i], 24, "end", 1.12);
});
</script>
</body>
</html>
